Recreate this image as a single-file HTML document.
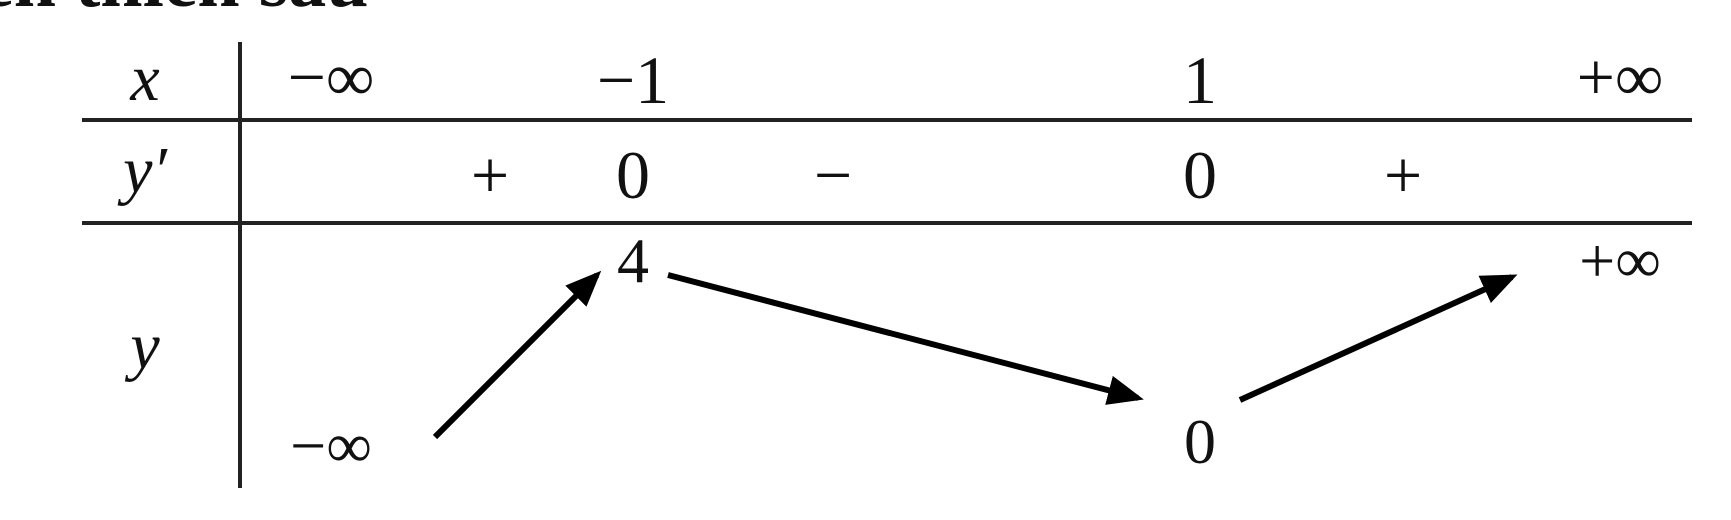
<!DOCTYPE html>
<html><head><meta charset="utf-8"><style>
html,body{margin:0;padding:0;background:#fff;width:1731px;height:520px;overflow:hidden}
svg{display:block}
text{font-family:"Liberation Serif",serif;fill:#111}
</style></head><body>
<svg width="1731" height="520" viewBox="0 0 1731 520">
<text x="-20" y="6" font-size="76" font-weight="bold">ến thiên sau</text>
<g stroke="#222" stroke-width="4">
<line x1="240" y1="42" x2="240" y2="488"/>
<line x1="82" y1="120" x2="1692" y2="120"/>
<line x1="82" y1="223" x2="1692" y2="223"/>
</g>
<text x="145" y="100" font-size="66" font-style="italic" text-anchor="middle">x</text>
<text x="145" y="192" font-size="66" font-style="italic" text-anchor="middle">y′</text>
<text x="145" y="368" font-size="66" font-style="italic" text-anchor="middle">y</text>
<g font-size="68" text-anchor="middle">
<text x="331" y="100">−∞</text>
<text x="633" y="103">−1</text>
<text x="1200" y="103">1</text>
<text x="1620" y="100">+∞</text>
</g>
<g font-size="68" text-anchor="middle">
<text x="490" y="198">+</text>
<text x="633" y="198">0</text>
<text x="833" y="198">−</text>
<text x="1200" y="198">0</text>
<text x="1403" y="198">+</text>
</g>
<g font-size="64" text-anchor="middle">
<text x="633" y="282">4</text>
<text x="1620" y="282">+∞</text>
<text x="331" y="467">−∞</text>
<text x="1200" y="463">0</text>
</g>
<defs><marker id="ah" markerWidth="6" markerHeight="5" refX="5" refY="2.5" orient="auto" markerUnits="strokeWidth"><path d="M0,0 L6,2.5 L0,5 Z" fill="#000"/></marker></defs>
<g stroke="#000" stroke-width="6" marker-end="url(#ah)">
<line x1="435" y1="437" x2="597" y2="275"/>
<line x1="668" y1="275" x2="1138" y2="398"/>
<line x1="1240" y1="400" x2="1512" y2="277"/>
</g>
</svg>
</body></html>
